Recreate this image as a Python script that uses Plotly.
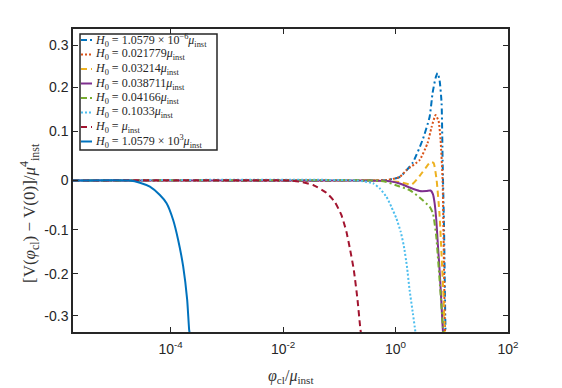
'''Classical potential difference vs field value for several H0 values'''
import numpy as np
import plotly.graph_objects as go

# log10(phi_cl / mu_inst) and [V(phi_cl) - V(0)] / mu_inst^4
x_h1 = [-5.735, -0.46, -0.158, 0.073, 0.303, 0.481, 0.606, 0.659, 0.712, 0.748, 0.783, 0.819, 0.837, 0.863, 0.890, 0.899]
y_h1 = [0, 0, 0.0007, 0.0056, 0.0325, 0.0808, 0.1317, 0.1866, 0.2216, 0.2332, 0.2168, 0.1635, 0.0385, -0.1005, -0.338, -0.35]

x_h2 = [-5.735, -0.46, -0.158, 0.073, 0.197, 0.428, 0.570, 0.641, 0.712, 0.766, 0.801, 0.837, 0.855, 0.881, 0.890]
y_h2 = [0, 0, 0.0007, 0.0056, 0.0186, 0.0385, 0.0743, 0.109, 0.136, 0.1226, 0.0808, 0.0004, -0.1226, -0.338, -0.35]

x_h3 = [-5.735, -0.282, 0.073, 0.286, 0.428, 0.535, 0.623, 0.677, 0.730, 0.783, 0.819, 0.855, 0.872, 0.881]
y_h3 = [0, 0, -0.0023, -0.0066, 0.0074, 0.0225, 0.0344, 0.0325, 0.001, -0.0678, -0.157, -0.261, -0.337, -0.35]

x_h4 = [-5.735, -0.46, -0.105, 0.073, 0.250, 0.428, 0.552, 0.623, 0.665, 0.695, 0.725, 0.753, 0.783, 0.813, 0.836, 0.849]
y_h4 = [0, 0, -0.0011, -0.0047, -0.012, -0.0186, -0.0186, -0.0177, -0.0245, -0.0427, -0.0786, -0.1336, -0.191, -0.261, -0.321, -0.35]

x_h5 = [-5.735, -0.46, -0.194, 0.073, 0.250, 0.428, 0.606, 0.665, 0.725, 0.753, 0.783, 0.813, 0.842, 0.854]
y_h5 = [0, 0, -0.0014, -0.0101, -0.0167, -0.0315, -0.0503, -0.0642, -0.115, -0.161, -0.214, -0.270, -0.326, -0.35]

x_h6 = [-5.735, -0.696, -0.401, -0.282, -0.163, -0.075, 0.014, 0.091, 0.149, 0.203, 0.250, 0.309, 0.352, 0.366]
y_h6 = [0, 0, -0.0044, -0.0135, -0.0298, -0.0503, -0.0749, -0.104, -0.137, -0.183, -0.238, -0.294, -0.337, -0.35]

x_h7 = [-5.735, -1.881, -1.703, -1.467, -1.229, -1.082, -0.963, -0.874, -0.805, -0.742, -0.676, -0.630, -0.612]
y_h7 = [0, 0, -0.0017, -0.0074, -0.022, -0.040, -0.0678, -0.104, -0.146, -0.191, -0.261, -0.325, -0.345]

x_h8 = [-5.735, -4.723, -4.545, -4.368, -4.190, -4.071, -3.954, -3.865, -3.776, -3.705, -3.670, -3.657]
y_h8 = [0, 0, -0.0034, -0.0105, -0.0265, -0.0432, -0.0786, -0.1226, -0.183, -0.261, -0.333, -0.345]

labels = [
    "<i>H</i><sub>0</sub> = 1.0579 × 10<sup>−6</sup><i>μ</i><sub>inst</sub>",
    "<i>H</i><sub>0</sub> = 0.021779<i>μ</i><sub>inst</sub>",
    "<i>H</i><sub>0</sub> = 0.03214<i>μ</i><sub>inst</sub>",
    "<i>H</i><sub>0</sub> = 0.038711<i>μ</i><sub>inst</sub>",
    "<i>H</i><sub>0</sub> = 0.04166<i>μ</i><sub>inst</sub>",
    "<i>H</i><sub>0</sub> = 0.1033<i>μ</i><sub>inst</sub>",
    "<i>H</i><sub>0</sub> = <i>μ</i><sub>inst</sub>",
    "<i>H</i><sub>0</sub> = 1.0579 × 10<sup>3</sup><i>μ</i><sub>inst</sub>",
]

y_ticks = [-0.3, -0.2, -0.1, 0, 0.1, 0.2, 0.3]
y_tick_text = ["-0.3", "-0.2", "-0.1", "0", "0.1", "0.2", "0.3"]
x_ticks = [1e-4, 1e-2, 1, 1e2]
x_tick_text = ["10<sup>-4</sup>", "10<sup>-2</sup>", "10<sup>0</sup>", "10<sup>2</sup>"]

colors = ["#0072BD", "#D95319", "#EDB120", "#7E2F8E", "#77AC30", "#4DBEEE", "#A2142F", "#0072BD"]
dashes = ["6px,3px,2px,3px", "2px,2px", "6px,4px", "solid",
          "6px,3px,2px,3px", "2px,2px", "6px,4px", "solid"]

# the y axis of the original is slightly compressed away from zero
def squash(v):
    v = np.asarray(v, dtype=float)
    return np.sign(v) * np.abs(v) ** 0.92

series = [(x_h1, y_h1), (x_h2, y_h2), (x_h3, y_h3), (x_h4, y_h4),
          (x_h5, y_h5), (x_h6, y_h6), (x_h7, y_h7), (x_h8, y_h8)]

fig = go.Figure()
for (xs, ys), name, col, dash in zip(series, labels, colors, dashes):
    fig.add_trace(go.Scatter(
        x=10 ** np.asarray(xs), y=squash(ys), mode="lines", name=name,
        line=dict(color=col, width=2, dash=dash, shape="spline", smoothing=0.5),
        showlegend=False,
    ))

axis_style = dict(
    showline=True, mirror="ticks", linecolor="#262626", linewidth=1.5,
    ticks="inside", ticklen=5, tickwidth=1, tickcolor="#262626",
    showgrid=False, zeroline=False,
    tickfont=dict(family="Liberation Sans", size=14, color="#262626"),
)

fig.update_xaxes(type="log", range=[-5.735, 2], tickvals=x_ticks,
                 ticktext=x_tick_text, ticklabelstandoff=3, **axis_style)
fig.update_yaxes(range=[-0.3695, 0.3695], tickvals=list(squash(y_ticks)),
                 ticktext=y_tick_text, **axis_style)

# plot box in page pixels (page has an 8px body margin)
px_left, px_right, px_top, px_bot = 73, 508, 29, 332
def px_x(p):
    return (p - px_left) / (px_right - px_left)
def px_y(p):
    return (px_bot - p) / (px_bot - px_top)

# hand-built legend, MATLAB style (compact rows)
fig.add_shape(type="rect", xref="paper", yref="paper",
              x0=px_x(80), x1=px_x(217), y0=px_y(150), y1=px_y(34),
              line=dict(color="#262626", width=1.5), fillcolor="white", layer="above")
for i, (name, col, dash) in enumerate(zip(labels, colors, dashes)):
    row = 40 + 14.5 * i
    fig.add_shape(type="line", xref="paper", yref="paper",
                  x0=px_x(81), x1=px_x(92), y0=px_y(row), y1=px_y(row),
                  line=dict(color=col, width=2, dash=dash), layer="above")
    fig.add_annotation(text=name, xref="paper", yref="paper",
                       x=px_x(93), y=px_y(row), xanchor="left", yanchor="middle",
                       showarrow=False,
                       font=dict(family="Liberation Serif", size=12, color="#262626"))

fig.add_annotation(
    text="<i>φ</i><sub>cl</sub>/<i>μ</i><sub>inst</sub>",
    xref="paper", yref="paper", x=0.5, y=px_y(376), xanchor="center", yanchor="middle",
    showarrow=False, font=dict(family="Liberation Serif", size=16, color="#333333"),
)
fig.add_annotation(
    text="[V(<i>φ</i><sub>cl</sub>) − V(0)]/<i>μ</i><sup>4</sup><sub>inst</sub>",
    xref="paper", yref="paper", x=px_x(29), y=px_y(213), xanchor="center", yanchor="middle",
    textangle=-90, showarrow=False,
    font=dict(family="Liberation Serif", size=17, color="#333333"),
)

fig.update_layout(
    width=554, height=380,
    margin=dict(l=65, r=54, t=21, b=56),
    plot_bgcolor="white", paper_bgcolor="white",
    showlegend=False,
)

fig.write_html("out.html")
